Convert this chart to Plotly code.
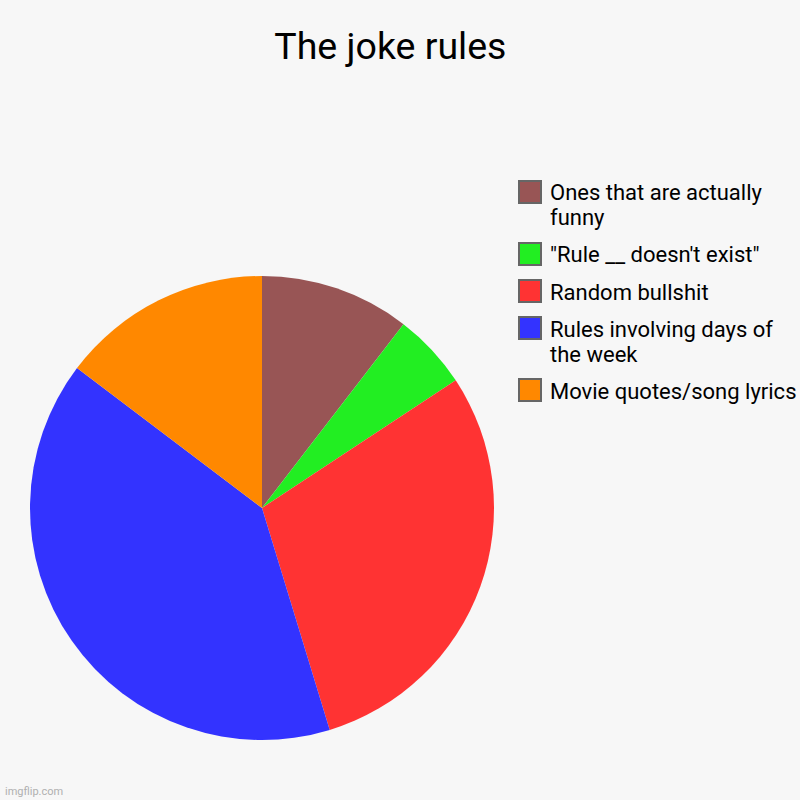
import plotly.graph_objects as go

labels = [
    "Ones that are actually<br>funny",
    "\"Rule __ doesn't exist\"",
    "Random bullshit",
    "Rules involving days of<br>the week",
    "Movie quotes/song lyrics",
]
values = [10.44, 5.29, 29.56, 40.03, 14.69]
colors = ["#985555", "#22ee22", "#ff3333", "#3333ff", "#ff8800"]

W = H = 800
BG = "#f7f7f7"


def px(x):
    return x / W


def py(y):
    return 1 - y / H


fig = go.Figure(
    go.Pie(
        labels=labels,
        values=values,
        sort=False,
        direction="clockwise",
        rotation=0,
        textinfo="none",
        hoverinfo="label+percent",
        marker=dict(colors=colors, line=dict(width=0)),
        domain=dict(x=[px(30), px(494)], y=[py(740), py(276)]),
        showlegend=False,
    )
)

# custom legend (swatches + text), same order as the data
shapes = []
annotations = []
y_center = 192
for lab, col in zip(labels, colors):
    lines = lab.split("<br>")
    shapes.append(
        dict(
            type="rect",
            xref="paper",
            yref="paper",
            x0=px(519),
            x1=px(541),
            y0=py(y_center + 11),
            y1=py(y_center - 11),
            fillcolor=col,
            line=dict(color="#666666", width=2),
        )
    )
    for i, ln in enumerate(lines):
        annotations.append(
            dict(
                text=ln,
                x=px(548),
                y=py(y_center + 1 + 25 * i),
                xref="paper",
                yref="paper",
                xanchor="left",
                yanchor="middle",
                showarrow=False,
                font=dict(family="Roboto", size=22, color="#000000"),
            )
        )
    y_center += 25 * (len(lines) - 1) + 37

annotations.append(
    dict(
        text="imgflip.com",
        x=px(3),
        y=py(791),
        xref="paper",
        yref="paper",
        xanchor="left",
        yanchor="middle",
        showarrow=False,
        font=dict(family="Roboto", size=11, color="#b0b0b0"),
    )
)

fig.update_layout(
    width=W,
    height=H,
    paper_bgcolor=BG,
    plot_bgcolor=BG,
    margin=dict(l=0, r=0, t=0, b=0),
    font=dict(family="Roboto", color="#000000"),
    title=dict(
        text="The joke rules",
        x=0.488,
        xanchor="center",
        y=1 - 46 / 800,
        yanchor="middle",
        yref="container",
        font=dict(family="Roboto", size=37.5, color="#000000"),
    ),
    showlegend=False,
    shapes=shapes,
    annotations=annotations,
)

fig.write_html(
    "out.html",
    config={"displayModeBar": False},
    post_script="document.body.style.margin='0';document.body.style.backgroundColor='#f7f7f7';",
)
